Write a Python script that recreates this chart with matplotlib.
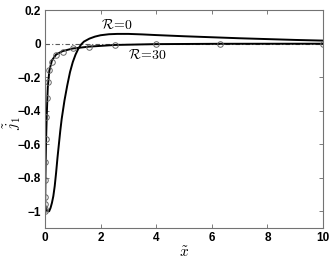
import matplotlib
matplotlib.use("Agg")
import matplotlib.pyplot as plt

plt.rcParams['mathtext.fontset'] = 'cm'

# R=0 curve
x_r0 = [0.0, 0.05, 0.1, 0.15, 0.2, 0.25, 0.3, 0.35, 0.4, 0.45, 0.5, 0.55, 0.6, 0.7, 0.8, 0.9, 1.0,
        1.1, 1.2, 1.3, 1.4, 1.6, 1.8, 2.0, 2.3, 2.6, 3.0, 3.5, 4.0, 5.0, 6.0, 7.0, 8.0, 9.0, 10.0]
y_r0 = [-0.96, -0.99, -1.0, -1.0, -0.98, -0.95, -0.91, -0.85, -0.77, -0.68, -0.6, -0.52, -0.45, -0.34,
        -0.25, -0.17, -0.11, -0.065, -0.03, -0.005, 0.012, 0.03, 0.042, 0.05, 0.056, 0.058, 0.058,
        0.055, 0.051, 0.044, 0.038, 0.032, 0.027, 0.022, 0.018]

# R=30 curve
x_r30 = [0.0, 0.0016, 0.0025, 0.004, 0.0063, 0.01, 0.016, 0.025, 0.04, 0.063, 0.1, 0.158, 0.25,
         0.4, 0.63, 1.0, 1.58, 2.51, 3.98, 6.31, 10.0]
y_r30 = [-1.0, -1.0, -0.99, -0.975, -0.95, -0.905, -0.81, -0.7, -0.57, -0.43, -0.26, -0.16, -0.1,
         -0.065, -0.045, -0.029, -0.018, -0.008, -0.003, -0.001, -0.0005]

# circles
x_c = [0.0016, 0.0025, 0.004, 0.0063, 0.01, 0.016, 0.025, 0.04, 0.063, 0.1, 0.158, 0.25, 0.4,
       0.63, 1.0, 1.58, 2.51, 3.98, 6.31, 10.0]
y_c = [-1.0, -0.985, -0.955, -0.913, -0.815, -0.705, -0.571, -0.437, -0.327, -0.228, -0.158,
       -0.108, -0.07, -0.049, -0.029, -0.019, -0.006, -0.002, -0.001, -0.0005]

xticks = [0, 2, 4, 6, 8, 10]
yticks = [0.2, 0, -0.2, -0.4, -0.6, -0.8, -1]
ytick_labels = ['0.2', '0', '\u22120.2', '\u22120.4', '\u22120.6', '\u22120.8', '\u22121']

fig = plt.figure(figsize=(3.32, 2.59), dpi=100)
ax = fig.add_axes([0.1355, 0.1197, 0.8375, 0.8413])

ax.plot([0, 10], [0, 0], color='0.35', lw=0.8, ls=(0, (4, 2, 1, 2)))
ax.plot(x_r0, y_r0, color='black', lw=1.4)
ax.plot(x_r30, y_r30, color='black', lw=1.4)
ax.plot(x_c, y_c, ls='none', marker='o', ms=4, mfc='none', mec='0.4', mew=0.7)

ax.set_xlim(0, 10)
ax.set_ylim(-1.1, 0.2)
ax.set_xticks(xticks)
ax.set_xticklabels([str(t) for t in xticks])
ax.set_yticks(yticks)
ax.set_yticklabels(ytick_labels)
for lab in ax.get_xticklabels() + ax.get_yticklabels():
    lab.set_fontfamily('Liberation Sans')
    lab.set_fontweight('bold')
    lab.set_fontsize(8.5)
ax.tick_params(direction='in', length=3, width=0.6, color='0.4', top=True, right=True, pad=3)
for s in ax.spines.values():
    s.set_color('0.45')
    s.set_linewidth(0.8)

ax.text(2.0, 0.11, r'$\mathcal{R}\!=\!0$', fontsize=10, va='center', ha='left')
ax.text(3.0, -0.065, r'$\mathcal{R}\!=\!30$', fontsize=10, va='center', ha='left')
ax.set_xlabel(r'$\tilde{x}$', fontsize=11)
ax.xaxis.set_label_coords(0.5, -0.08)
ax.set_ylabel(r'$\tilde{j}_1$', fontsize=11)
ax.yaxis.set_label_coords(-0.08, 0.48)

fig.savefig('out.png', dpi=100)
